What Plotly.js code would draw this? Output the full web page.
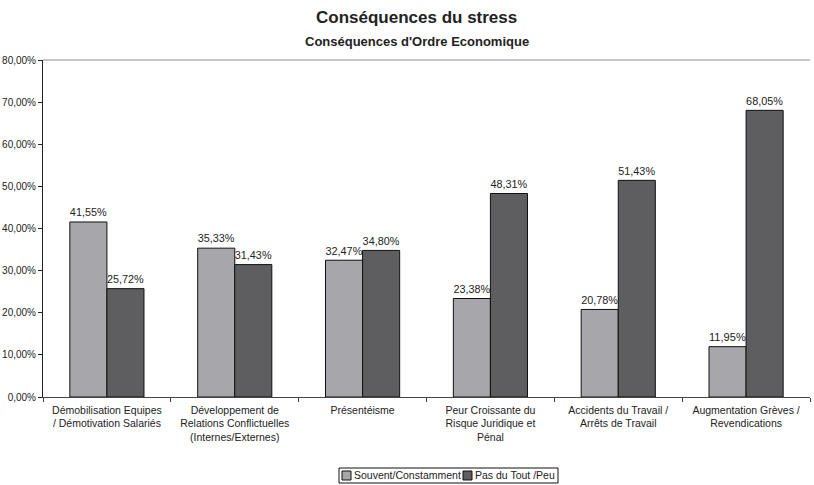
<!DOCTYPE html>
<html><head><meta charset="utf-8">
<script src="https://cdn.plot.ly/plotly-3.0.1.min.js"></script>
<style>body{margin:0;padding:0;background:#fff}#chart{width:814px;height:485px}</style>
</head><body><div id="chart"></div>
<script>
const categories = [
  "Démobilisation Equipes<br>/ Démotivation Salariés",
  "Développement de<br>Relations Conflictuelles<br>(Internes/Externes)",
  "Présentéisme",
  "Peur Croissante du<br>Risque Juridique et<br>Pénal",
  "Accidents du Travail /<br>Arrêts de Travail",
  "Augmentation Grèves /<br>Revendications"
];
const souvent = [41.55, 35.33, 32.47, 23.38, 20.78, 11.95];
const pasDuTout = [25.72, 31.43, 34.80, 48.31, 51.43, 68.05];
const seriesNames = ["Souvent/Constamment", "Pas du Tout /Peu"];
const yTicks = [0, 10, 20, 30, 40, 50, 60, 70, 80];
const yTickText = ["0,00%", "10,00%", "20,00%", "30,00%", "40,00%", "50,00%", "60,00%", "70,00%", "80,00%"];

const colors = ["#a7a7ab", "#5e5e61"];
const font = "Liberation Sans, Arial, sans-serif";
const W = 814, H = 485, M = {l: 43, r: 4, t: 60, b: 88};
const pw = W - M.l - M.r, ph = H - M.t - M.b;
const px = x => (x - M.l) / pw;
const py = y => (H - M.b - y) / ph;

const mk = (y, i) => ({
  type: "bar", x: categories, y: y, name: seriesNames[i],
  marker: {color: colors[i], line: {color: "#111", width: 1}},
  texttemplate: "%{y:.2f}%", textposition: "outside", cliponaxis: false,
  textfont: {family: font, size: 12, color: "#222"},
  hoverinfo: "skip", showlegend: false
});
const data = [mk(souvent, 0), mk(pasDuTout, 1)];

// manual legend
const legItems = [{sq: 342, tx: 353}, {sq: 463, tx: 474}];
const shapes = [
  {type: "line", xref: "paper", yref: "paper", x0: 0, x1: 1, y0: 1, y1: 1, line: {color: "#8c8c8c", width: 1}},
  {type: "rect", xref: "paper", yref: "paper", x0: px(339), x1: px(558), y0: py(468), y1: py(483),
    line: {color: "#111", width: 1}, fillcolor: "rgba(0,0,0,0)"}
];
const annotations = [
  {text: "<b>Conséquences du stress</b>", xref: "paper", yref: "paper", x: px(416), y: py(18),
    xanchor: "center", yanchor: "middle", showarrow: false, font: {family: font, size: 17, color: "#222"}},
  {text: "<b>Conséquences d'Ordre Economique</b>", xref: "paper", yref: "paper", x: px(417), y: py(42),
    xanchor: "center", yanchor: "middle", showarrow: false, font: {family: font, size: 13, color: "#222"}}
];
legItems.forEach((it, i) => {
  shapes.push({type: "rect", xref: "paper", yref: "paper", x0: px(it.sq), x1: px(it.sq + 9),
    y0: py(471), y1: py(480), fillcolor: colors[i], line: {color: "#111", width: 1}});
  annotations.push({text: seriesNames[i], xref: "paper", yref: "paper", x: px(it.tx), y: py(475.5),
    xanchor: "left", yanchor: "middle", showarrow: false, borderpad: 0,
    font: {family: font, size: 10.5, color: "#222"}});
});

const layout = {
  width: W, height: H,
  margin: M,
  paper_bgcolor: "#fff", plot_bgcolor: "#fff",
  separators: ", ",
  font: {family: font, size: 11, color: "#222"},
  barmode: "group", bargap: 0.42, bargroupgap: 0,
  showlegend: false,
  xaxis: {showline: true, linecolor: "#444", linewidth: 1, ticks: "outside", tickson: "boundaries",
    ticklen: 4, tickcolor: "#444", showgrid: false, automargin: false, tickangle: 0,
    ticklabelstandoff: 3,
    tickfont: {family: font, size: 10.5, color: "#222"}, fixedrange: true},
  yaxis: {range: [0, 80], tickvals: yTicks, ticktext: yTickText, automargin: false,
    showline: true, linecolor: "#222", linewidth: 1, ticks: "outside", ticklen: 4, tickcolor: "#222",
    showgrid: false, zeroline: false, tickfont: {family: font, size: 10, color: "#222"}, fixedrange: true},
  shapes: shapes,
  annotations: annotations
};
Plotly.newPlot("chart", data, layout, {displayModeBar: false, staticPlot: true});
</script></body></html>
